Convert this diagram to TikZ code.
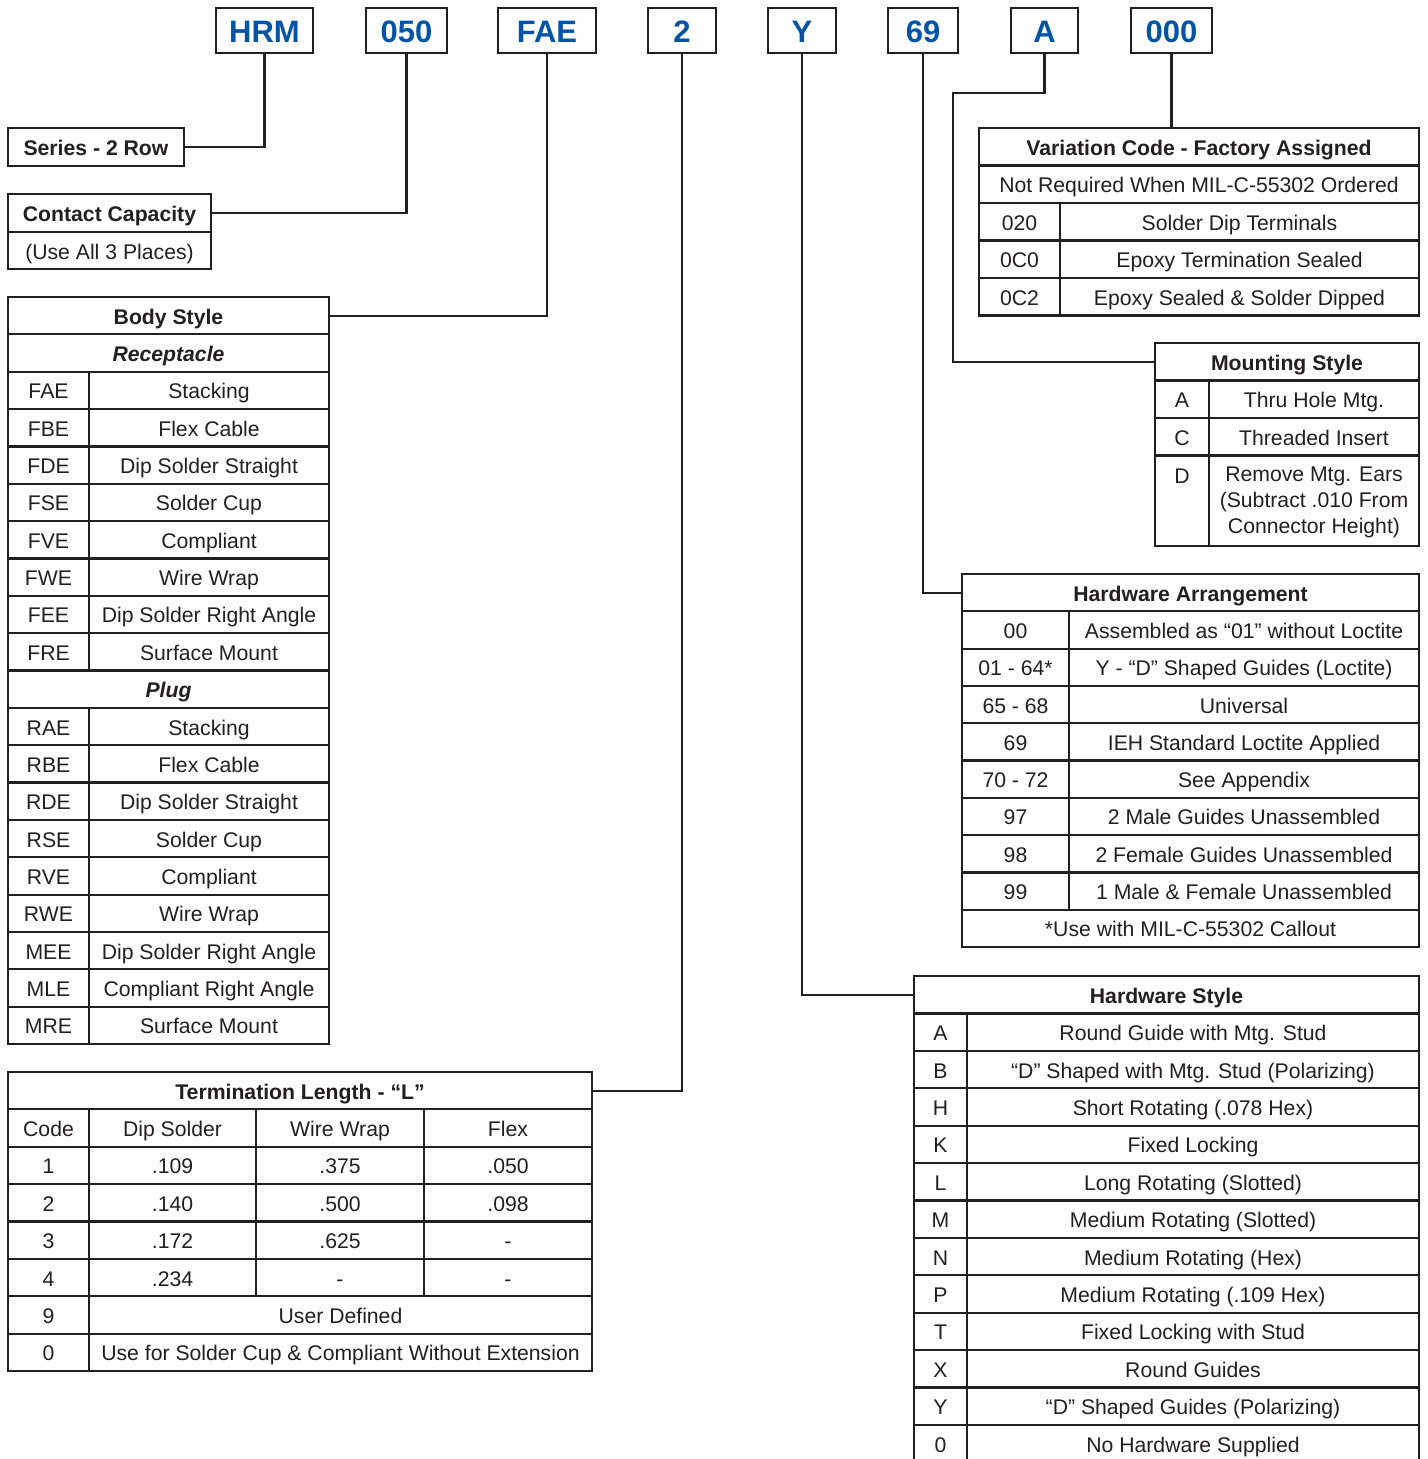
\documentclass[tikz,border=0pt]{standalone}
\usepackage{fontspec}
\setmainfont{Liberation Sans}
\definecolor{ink}{HTML}{231F20}
\definecolor{codeblue}{RGB}{0,84,166}
\newcommand\fRg{\fontsize{21.2}{26}\selectfont}
\newcommand\fBd{\fontsize{21.2}{26}\selectfont\bfseries}
\newcommand\fCode{\fontsize{31}{36}\selectfont\bfseries}
\tikzset{
  ln/.style={line width=2.2pt, draw=ink, line join=miter},
  cellst/.style={ln, rectangle, inner sep=0pt, outer sep=0pt, text=ink, font=\fRg, text height=17pt, text depth=0pt},
  txt/.style={inner sep=0pt, outer sep=0pt, text=ink, font=\fRg, text height=17pt, text depth=0pt},
  codebox/.style={ln, rectangle, inner sep=0pt, outer sep=0pt, minimum height=45pt, text=codeblue, font=\fCode, text height=24pt, text depth=0pt}
}
% [options]{name}{x1}{y1}{x2}{y2}{text}
\newcommand\cel[7][]{\node[cellst,minimum width={(#5-#3)*1pt},minimum height={(#6-#4)*1pt},anchor=north west,#1] (#2) at (#3,#4) {#7};}
\begin{document}
\begin{tikzpicture}[x=1pt,y=-1pt]
\fill[white] (0,0) rectangle (1427,1459);
\useasboundingbox (0,0) rectangle (1427,1459);

% ---------- code boxes ----------
\node[codebox, minimum width=97pt] (hrm) at (264.5,30.5) {HRM};
\node[codebox, minimum width=81pt] (c050) at (406.5,30.5) {050};
\node[codebox, minimum width=98pt] (fae) at (547,30.5) {FAE};
\node[codebox, minimum width=68pt] (c2) at (682,30.5) {2};
\node[codebox, minimum width=68pt] (cy) at (802,30.5) {Y};
\node[codebox, minimum width=70pt] (c69) at (923,30.5) {69};
\node[codebox, minimum width=67pt] (ca) at (1044.5,30.5) {A};
\node[codebox, minimum width=81pt] (c000) at (1171.5,30.5) {000};

% ---------- series ----------
\cel[font=\fBd]{series}{8}{128}{184}{166}{Series - 2 Row}

% ---------- contact capacity ----------
\cel[font=\fBd]{cch}{8}{194}{211}{232}{Contact Capacity}
\cel{ccr}{8}{232}{211}{269}{(Use All 3 Places)}

% ---------- body style ----------
\cel[font=\fBd]{bsh}{8}{297}{329}{334.35}{Body Style}
\cel[font=\fBd\itshape]{bsr}{8}{334.35}{329}{371.7}{Receptacle}
\cel[font=\fBd\itshape]{bsp}{8}{670.5}{329}{707.85}{Plug}
\foreach \i/\c/\d in {2/FAE/Stacking,3/FBE/Flex Cable,4/FDE/Dip Solder Straight,5/FSE/Solder Cup,6/FVE/Compliant,7/FWE/Wire Wrap,8/FEE/Dip Solder Right Angle,9/FRE/Surface Mount,11/RAE/Stacking,12/RBE/Flex Cable,13/RDE/Dip Solder Straight,14/RSE/Solder Cup,15/RVE/Compliant,16/RWE/Wire Wrap,17/MEE/Dip Solder Right Angle,18/MLE/Compliant Right Angle,19/MRE/Surface Mount}{
  \pgfmathsetmacro\ya{297+37.35*\i}\pgfmathsetmacro\yb{\ya+37.35}
  \cel{bsc\i}{8}{\ya}{89}{\yb}{\c}
  \cel{bsd\i}{89}{\ya}{329}{\yb}{\d}
}

% ---------- termination length ----------
\cel[font=\fBd]{tlh}{8}{1072}{592}{1109.375}{Termination Length - “L”}
\foreach \i/\a/\b/\c/\d in {1/Code/Dip Solder/Wire Wrap/Flex,2/1/.109/.375/.050,3/2/.140/.500/.098,4/3/.172/.625/-,5/4/.234/-/-}{
  \pgfmathsetmacro\ya{1072+37.375*\i}\pgfmathsetmacro\yb{\ya+37.375}
  \cel{tla\i}{8}{\ya}{89}{\yb}{\a}
  \cel{tlb\i}{89}{\ya}{256}{\yb}{\b}
  \cel{tlc\i}{256}{\ya}{424}{\yb}{\c}
  \cel{tld\i}{424}{\ya}{592}{\yb}{\d}
}
\cel{tla6}{8}{1296.25}{89}{1333.625}{9}
\cel{tlb6}{89}{1296.25}{592}{1333.625}{User Defined}
\cel{tla7}{8}{1333.625}{89}{1371}{0}
\cel{tlb7}{89}{1333.625}{592}{1371}{Use for Solder Cup \& Compliant Without Extension}

% ---------- variation code ----------
\cel[font=\fBd]{vch}{979}{128}{1419}{165.5}{Variation Code - Factory Assigned}
\cel{vcn}{979}{165.5}{1419}{203}{Not Required When MIL-C-55302 Ordered}
\foreach \i/\c/\d in {2/020/Solder Dip Terminals,3/0C0/Epoxy Termination Sealed,4/0C2/Epoxy Sealed \& Solder Dipped}{
  \pgfmathsetmacro\ya{128+37.5*\i}\pgfmathsetmacro\yb{\ya+37.5}
  \cel{vcc\i}{979}{\ya}{1060}{\yb}{\c}
  \cel{vcd\i}{1060}{\ya}{1419}{\yb}{\d}
}

% ---------- mounting style ----------
\cel[font=\fBd]{msh}{1155}{343}{1419}{380.5}{Mounting Style}
\cel{msc1}{1155}{380.5}{1209}{418}{A}
\cel{msd1}{1209}{380.5}{1419}{418}{Thru Hole Mtg.}
\cel{msc2}{1155}{418}{1209}{455.5}{C}
\cel{msd2}{1209}{418}{1419}{455.5}{Threaded Insert}
\cel{msc3}{1155}{455.5}{1209}{546}{}
\cel{msd3}{1209}{455.5}{1419}{546}{}
\node[txt] (msl3) at (1182,474.5) {D};
\node[txt, align=center, text height={}, text depth={}] (mst3) at (1314,502.5) {Remove Mtg. Ears\\(Subtract .010 From\\Connector Height)};

% ---------- hardware arrangement ----------
\cel[font=\fBd]{hah}{962}{574}{1419}{611.3}{Hardware Arrangement}
\foreach \i/\c/\d in {1/00/Assembled as “01” without Loctite,2/01 - 64*/Y - “D” Shaped Guides (Loctite),3/65 - 68/Universal,4/69/IEH Standard Loctite Applied,5/70 - 72/See Appendix,6/97/2 Male Guides Unassembled,7/98/2 Female Guides Unassembled,8/99/1 Male \& Female Unassembled}{
  \pgfmathsetmacro\ya{574+37.3*\i}\pgfmathsetmacro\yb{\ya+37.3}
  \cel{hac\i}{962}{\ya}{1069}{\yb}{\c}
  \cel{had\i}{1069}{\ya}{1419}{\yb}{\d}
}
\cel{haf}{962}{909.7}{1419}{947}{*Use with MIL-C-55302 Callout}

% ---------- hardware style ----------
\cel[font=\fBd]{hsh}{914}{976}{1419}{1013.4}{Hardware Style}
\foreach \i/\c/\d in {1/A/Round Guide with Mtg. Stud,2/B/“D” Shaped with Mtg. Stud (Polarizing),3/H/Short Rotating (.078 Hex),4/K/Fixed Locking,5/L/Long Rotating (Slotted),6/M/Medium Rotating (Slotted),7/N/Medium Rotating (Hex),8/P/Medium Rotating (.109 Hex),9/T/Fixed Locking with Stud,10/X/Round Guides,11/Y/“D” Shaped Guides (Polarizing),12/0/No Hardware Supplied}{
  \pgfmathsetmacro\ya{976+37.4*\i}\pgfmathsetmacro\yb{\ya+37.4}
  \cel{hsc\i}{914}{\ya}{967}{\yb}{\c}
  \cel{hsd\i}{967}{\ya}{1419}{\yb}{\d}
}

% ---------- connectors ----------
\draw[ln] (hrm.south) |- (series.east);
\draw[ln] (c050.south) |- (cch.east);
\draw[ln] (fae.south) |- (bsh.east);
\draw[ln] (c2.south) |- (tlh.east);
\draw[ln] (cy.south) |- (hsh.west);
\draw[ln] (c69.south) |- (hah.west);
\coordinate (abend) at (953,93);
\draw[ln] (ca.south) |- (abend) |- (msh.west);
\draw[ln] (c000.south) -- (c000.south |- vch.north);
\end{tikzpicture}
\end{document}
